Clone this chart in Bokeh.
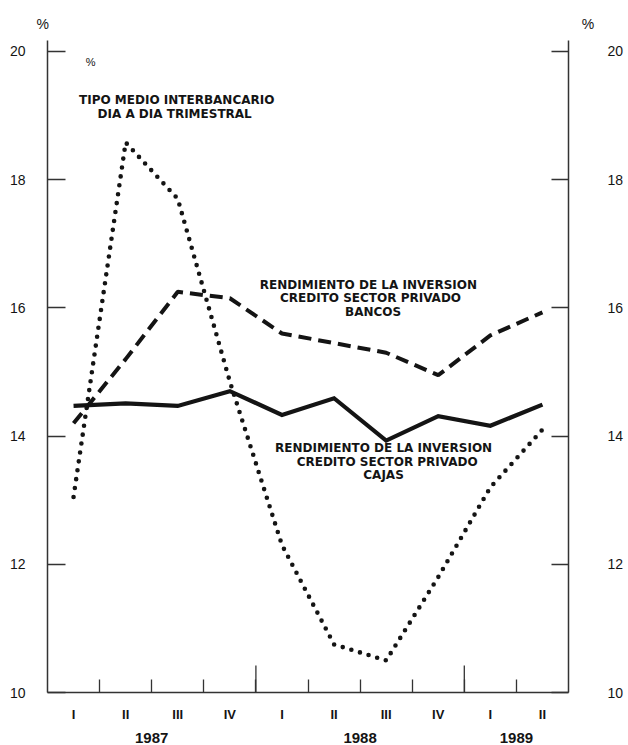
from bokeh.plotting import figure
from bokeh.models import LinearAxis, FixedTicker, Label, ColumnDataSource, Title
from bokeh.embed import file_html
from bokeh.resources import INLINE

# ---- data ----
quarters = ["I", "II", "III", "IV", "I", "II", "III", "IV", "I", "II"]
quarter_year = ["1987", "1987", "1987", "1987", "1988", "1988", "1988", "1988", "1989", "1989"]
years = ["1987", "1988", "1989"]
interbancario = [13.05, 18.58, 17.70, 14.85, 12.30, 10.75, 10.50, 11.80, 13.20, 14.10]
bancos = [14.20, 15.20, 16.25, 16.15, 15.60, 15.45, 15.30, 14.95, 15.57, 15.93]
cajas = [14.47, 14.51, 14.47, 14.70, 14.33, 14.59, 13.93, 14.31, 14.16, 14.49]
y_ticks = [10, 12, 14, 16, 18, 20]

centers = [i + 0.5 for i in range(len(quarters))]
boundaries = [i for i in range(1, len(quarters))]
year_bounds = [i for i in range(1, len(quarters)) if quarter_year[i] != quarter_year[i - 1]]
year_centers = []
for yv in years:
    xs = [c for c, qy in zip(centers, quarter_year) if qy == yv]
    year_centers.append(sum(xs) / len(xs))

src = ColumnDataSource(dict(x=centers, inter=interbancario, bancos=bancos, cajas=cajas))

INK = "#141414"
AX = "#333333"
Y0, Y1 = 10, 20.17
FRAME_H = 652
p = figure(width=628, height=745, x_range=(0, 10), y_range=(Y0, Y1),
           x_axis_type=None, y_axis_type=None, toolbar_location=None,
           output_backend="svg", title=None,
           min_border_left=47, min_border_right=60,
           min_border_top=40, min_border_bottom=53)
p.outline_line_color = None
p.background_fill_color = "white"
p.border_fill_color = "white"

# "%" unit marks above both axes (one title line, left and right)
unit_title = Title(text="%" + "\u00a0" * 137 + "%", align="left", offset=-11,
                   standoff=18, text_font="Liberation Sans", text_font_size="14px",
                   text_font_style="normal", text_color=INK)
p.add_layout(unit_title, "above")

# ---- lines ----
p.line("x", "cajas", source=src, line_color=INK, line_width=4.2, line_join="miter")
p.line("x", "bancos", source=src, line_color=INK, line_width=4.0, line_dash="13 7")
p.line("x", "inter", source=src, line_color=INK, line_width=4.6, line_dash="0 9",
       line_cap="round", line_join="round")

# taller tick marks at the year boundaries (27 px high)
tall = 27 * (Y1 - Y0) / FRAME_H
p.segment(x0=year_bounds, x1=year_bounds, y0=[Y0] * len(year_bounds),
          y1=[Y0 + tall] * len(year_bounds), line_color=AX, line_width=1.3)

# ---- axes ----
def yaxis(standoff, tick_in):
    ax = LinearAxis(ticker=FixedTicker(ticks=y_ticks))
    ax.major_tick_in = tick_in
    ax.major_tick_out = 0
    ax.minor_tick_line_color = None
    ax.axis_line_width = 1.5
    ax.axis_line_color = AX
    ax.major_tick_line_width = 1.3
    ax.major_tick_line_color = AX
    ax.major_label_standoff = standoff
    ax.major_label_text_font = "Liberation Sans"
    ax.major_label_text_font_size = "14px"
    ax.major_label_text_color = INK
    return ax

p.add_layout(yaxis(22, 18), "left")
p.add_layout(yaxis(39, 17), "right")

ax1 = LinearAxis(ticker=FixedTicker(ticks=centers, minor_ticks=boundaries),
                 major_label_overrides={c: q for c, q in zip(centers, quarters)})
ax1.major_tick_in = 0
ax1.major_tick_out = 0
ax1.major_tick_line_color = None
ax1.minor_tick_in = 13
ax1.minor_tick_out = 0
ax1.minor_tick_line_width = 1.3
ax1.minor_tick_line_color = AX
ax1.axis_line_width = 1.5
ax1.axis_line_color = AX
ax1.major_label_standoff = 14
ax1.major_label_text_font = "Liberation Sans"
ax1.major_label_text_font_style = "bold"
ax1.major_label_text_font_size = "13px"
ax1.major_label_text_color = INK
p.add_layout(ax1, "below")

ax2 = LinearAxis(ticker=FixedTicker(ticks=year_centers),
                 major_label_overrides={c: y for c, y in zip(year_centers, years)})
ax2.axis_line_color = None
ax2.major_tick_line_color = None
ax2.minor_tick_line_color = None
ax2.major_tick_in = 0
ax2.major_tick_out = 0
ax2.major_label_standoff = 8
ax2.major_label_text_font = "Liberation Sans"
ax2.major_label_text_font_style = "bold"
ax2.major_label_text_font_size = "15px"
ax2.major_label_text_color = INK
p.add_layout(ax2, "below")

# ---- text annotations ----
def lab(x, y, t, size="12px", font="DejaVu Sans", style="bold"):
    p.add_layout(Label(x=x, y=y, text=t, text_font=font, text_font_size=size,
                       text_font_style=style, text_align="center",
                       text_baseline="middle", text_color=INK))

lab(0.83, 19.83, "%", "11px", "Liberation Sans", "normal")

lab(2.48, 19.24, "TIPO MEDIO INTERBANCARIO")
lab(2.44, 19.03, "DIA A DIA TRIMESTRAL")

lab(6.16, 16.35, "RENDIMIENTO DE LA INVERSION")
lab(6.20, 16.15, "CREDITO SECTOR PRIVADO")
lab(6.25, 15.93, "BANCOS")

lab(6.45, 13.81, "RENDIMIENTO DE LA INVERSION")
lab(6.52, 13.60, "CREDITO SECTOR PRIVADO")
lab(6.45, 13.40, "CAJAS")

open("out.html", "w").write(file_html(p, INLINE))
